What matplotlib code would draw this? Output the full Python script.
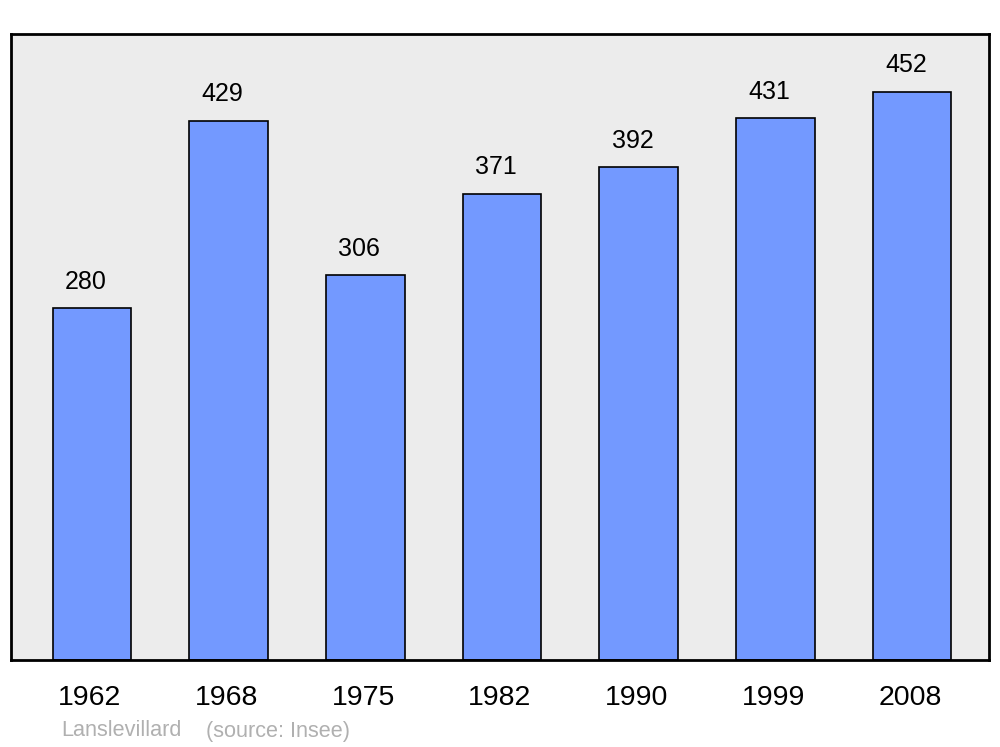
import matplotlib.pyplot as plt
from matplotlib.transforms import ScaledTranslation

years = ["1962", "1968", "1975", "1982", "1990", "1999", "2008"]
population = [280, 429, 306, 371, 392, 431, 452]
commune = "Lanslevillard"
source = "(source: Insee)"

plt.rcParams["font.family"] = ["Liberation Sans", "DejaVu Sans"]

fig = plt.figure(figsize=(10, 7.47), dpi=100)
ax = fig.add_axes([0.011, 1 - 660 / 747, 0.978, (660 - 34) / 747])
ax.set_facecolor("#ececec")

x = list(range(len(years)))
ax.bar(x, population, width=0.575, color="#7399ff",
       edgecolor="black", linewidth=1.2, zorder=2)

# value labels sit a little left of bar centres, as in the original
for xi, v in zip(x, population):
    ax.annotate(str(v), (xi, v), xytext=(-4.5, 19), textcoords="offset points",
                ha="center", va="center", fontsize=18)

ax.set_xlim(-0.593, 6.563)
ax.set_ylim(0, 498)
ax.set_yticks([])
ax.set_xticks(x)
ax.set_xticklabels(years, fontsize=20.5)
ax.tick_params(axis="x", length=0, pad=18)
shift = ScaledTranslation(-1.5 / 72, 0, fig.dpi_scale_trans)
for lbl in ax.get_xticklabels():
    lbl.set_transform(lbl.get_transform() + shift)
for s in ax.spines.values():
    s.set_linewidth(2)

fig.text(0.061, 1 - 731 / 747, commune, fontsize=15.6, color="#b0b0b0", va="center")
fig.text(0.206, 1 - 731 / 747, source, fontsize=15.6, color="#b0b0b0", va="center")

fig.savefig("out.png", dpi=100)
